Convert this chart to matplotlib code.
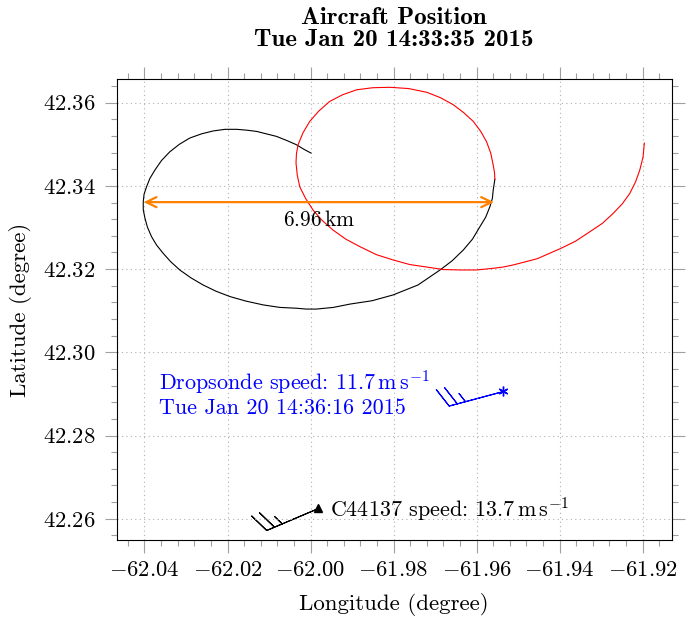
import numpy as np
import matplotlib
matplotlib.use("Agg")
import matplotlib.pyplot as plt

# flight track, first leg (black) then second leg (red)
black_lon = [-61.9999, -62.0016, -62.0034, -62.0057, -62.0082, -62.0106, -62.0130,
             -62.0154, -62.0178, -62.0206, -62.0235, -62.0263, -62.0291, -62.0316,
             -62.0339, -62.0359, -62.0375, -62.0387, -62.0395, -62.0401, -62.0403,
             -62.0403, -62.0399, -62.0393, -62.0383, -62.0371, -62.0355, -62.0337,
             -62.0315, -62.0288, -62.0259, -62.0228, -62.0194, -62.0155, -62.0114,
             -62.0074, -62.0034, -62.0010, -61.9986, -61.9945, -61.9905, -61.9852,
             -61.9801, -61.9741, -61.9688, -61.9659, -61.9632, -61.9610, -61.9592,
             -61.9578, -61.9568, -61.9562, -61.9560, -61.9558, -61.9556]
black_lat = [42.3479, 42.3488, 42.3499, 42.3509, 42.3519, 42.3525, 42.3531,
             42.3534, 42.3536, 42.3536, 42.3532, 42.3525, 42.3515, 42.3500,
             42.3482, 42.3461, 42.3438, 42.3418, 42.3398, 42.3380, 42.3362,
             42.3343, 42.3323, 42.3301, 42.3278, 42.3258, 42.3238, 42.3218,
             42.3198, 42.3179, 42.3162, 42.3147, 42.3134, 42.3123, 42.3114,
             42.3108, 42.3106, 42.3104, 42.3104, 42.3108, 42.3116, 42.3124,
             42.3138, 42.3162, 42.3198, 42.3220, 42.3246, 42.3272, 42.3302,
             42.3325, 42.3350, 42.3370, 42.3390, 42.3403, 42.3416]
red_lon = [-61.9556, -61.9557, -61.9560, -61.9566, -61.9576, -61.9590, -61.9608,
           -61.9631, -61.9656, -61.9687, -61.9720, -61.9764, -61.9809, -61.9850,
           -61.9889, -61.9923, -61.9954, -61.9980, -62.0002, -62.0018, -62.0030,
           -62.0034, -62.0035, -62.0032, -62.0026, -62.0012, -61.9994, -61.9972,
           -61.9946, -61.9915, -61.9881, -61.9842, -61.9801, -61.9761, -61.9720,
           -61.9680, -61.9640, -61.9600, -61.9560, -61.9536, -61.9512, -61.9454,
           -61.9399, -61.9362, -61.9327, -61.9297, -61.9271, -61.9249, -61.9231,
           -61.9217, -61.9207, -61.9199, -61.9196]
red_lat = [42.3416, 42.3433, 42.3450, 42.3479, 42.3506, 42.3531, 42.3555,
           42.3576, 42.3595, 42.3612, 42.3625, 42.3634, 42.3637, 42.3636,
           42.3631, 42.3619, 42.3603, 42.3580, 42.3555, 42.3528, 42.3499,
           42.3477, 42.3455, 42.3426, 42.3398, 42.3370, 42.3342, 42.3317,
           42.3294, 42.3272, 42.3254, 42.3235, 42.3222, 42.3211, 42.3205,
           42.3199, 42.3198, 42.3198, 42.3202, 42.3205, 42.3210, 42.3225,
           42.3249, 42.3267, 42.3290, 42.3310, 42.3334, 42.3357, 42.3382,
           42.3410, 42.3438, 42.3470, 42.3503]

# diameter marker
span_lon = [-62.0402, -61.9558]
span_lat = 42.3361
span_label = "6.96$\\,$km"

# wind observations: position, speed (m/s), direction the staff points (deg)
sonde_pos = (-61.9537, 42.2908)
sonde_speed = 11.7
sonde_dir = 195.0
plane_pos = (-61.9981, 42.2625)
plane_speed = 13.7
plane_dir = 203.0

plt.rcParams["font.family"] = "serif"
plt.rcParams["font.serif"] = ["cmr10"]
plt.rcParams["mathtext.fontset"] = "cm"
plt.rcParams["axes.formatter.use_mathtext"] = True
plt.rcParams["font.size"] = 16.5

fig = plt.figure(figsize=(6.92, 6.17), dpi=100)
ax = fig.add_axes([0.1686, 0.1248, 0.8021, 0.7472])

ax.plot(black_lon, black_lat, color="black", lw=0.8)
ax.plot(red_lon, red_lat, color="red", lw=0.8)

ax.annotate("", xy=(span_lon[1], span_lat), xytext=(span_lon[0], span_lat),
            arrowprops=dict(arrowstyle="<->,head_length=0.45,head_width=0.22",
                            color="#ff8000", lw=1.6, shrinkA=0, shrinkB=0))
ax.text(np.mean(span_lon), span_lat - 0.0043, span_label, ha="center", va="center",
        fontsize=15.5)

kt = 1.94384
for pos, spd, d, col, mk in ((sonde_pos, sonde_speed, sonde_dir, "blue", (6, 2, 0)),
                              (plane_pos, plane_speed, plane_dir, "black", "^")):
    ang = np.radians(d)
    u = -spd * kt * np.cos(ang)
    v = -spd * kt * np.sin(ang)
    ax.barbs([pos[0]], [pos[1]], [u], [v], length=9.0, color=col, lw=0.8,
             sizes=dict(spacing=0.15, height=0.34, width=0.29))
    ax.plot(pos[0], pos[1], marker=mk, color=col, ms=7 if mk != "^" else 6,
            mew=1.0, ls="none")

ax.text(-62.0366, 42.2901, "Dropsonde speed: 11.7$\\,\\mathrm{m\\,s^{-1}}$\nTue Jan 20 14:36:16 2015",
        color="blue", ha="left", va="center", fontsize=15.9, linespacing=1.05)
ax.text(-61.9953, 42.2621, "C44137 speed: 13.7$\\,\\mathrm{m\\,s^{-1}}$",
        color="black", ha="left", va="center", fontsize=15.9)

ax.set_xlim(-62.0467, -61.9130)
ax.set_ylim(42.2549, 42.3657)
ax.set_xticks(np.arange(-62.04, -61.919, 0.02))
ax.set_yticks(np.arange(42.26, 42.361, 0.02))
ax.set_xticks(np.arange(-62.044, -61.913, 0.004), minor=True)
ax.set_yticks(np.arange(42.256, 42.366, 0.004), minor=True)
ax.xaxis.set_major_formatter(matplotlib.ticker.FormatStrFormatter("$%.2f$"))
ax.yaxis.set_major_formatter(matplotlib.ticker.FormatStrFormatter("$%.2f$"))
ax.tick_params(which="both", direction="out", color="#a0a0a0", width=0.8,
               top=True, right=True, labelsize=16.3)
ax.tick_params(which="major", length=9, pad=6)
ax.tick_params(which="minor", length=4)
ax.grid(which="major", color="#b0b0b0", lw=0.8, ls=(0, (1, 3)))
for s in ax.spines.values():
    s.set_linewidth(0.8)

ax.set_xlabel("Longitude (degree)", labelpad=9)
ax.set_ylabel("Latitude (degree)", labelpad=8)
ax.set_title("Aircraft Position\nTue Jan 20 14:33:35 2015", fontfamily="cmb10",
             fontsize=18, pad=24, linespacing=1.0)

fig.savefig("out.png", dpi=100)
